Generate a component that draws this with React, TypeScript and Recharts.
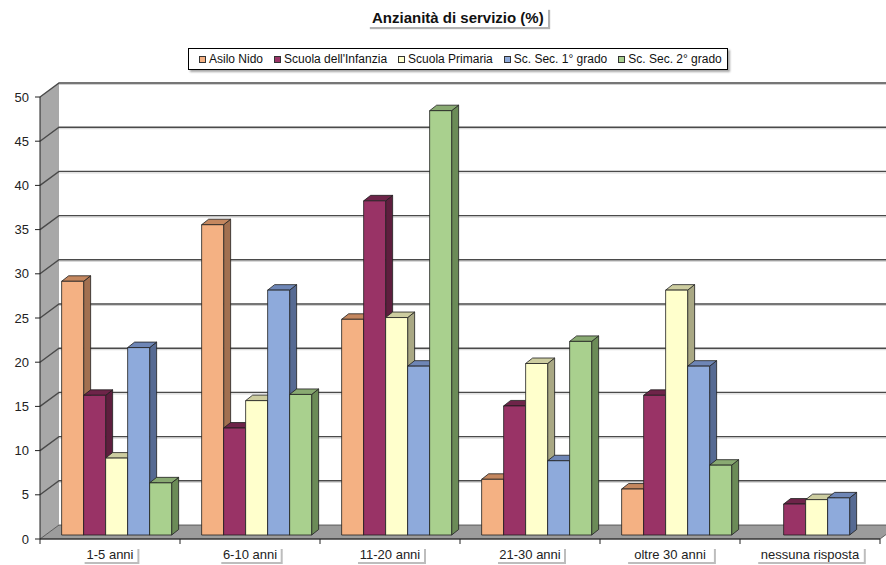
import React from 'react'
import { BarChart, Bar, XAxis, YAxis, Legend, ReferenceArea } from 'recharts'

// Categories (x axis) and the five series, values in %
const categories = ['1-5 anni', '6-10 anni', '11-20 anni', '21-30 anni', 'oltre 30 anni', 'nessuna risposta']
const asiloNido = [28.7, 35.1, 24.4, 6.3, 5.2, null]
const scuolaInfanzia = [15.8, 12.1, 37.8, 14.6, 15.8, 3.5]
const scuolaPrimaria = [8.7, 15.2, 24.6, 19.4, 27.7, 4.0]
const secPrimoGrado = [21.2, 27.7, 19.1, 8.4, 19.1, 4.2]
const secSecondoGrado = [5.9, 15.9, 48.0, 21.9, 7.9, null]
const yTicks = [0, 5, 10, 15, 20, 25, 30, 35, 40, 45, 50]

const series = [
  { key: 'asilo', name: 'Asilo Nido', values: asiloNido, front: '#F4B183', top: '#C4875F', side: '#A27050' },
  { key: 'infanzia', name: "Scuola dell'Infanzia", values: scuolaInfanzia, front: '#993366', top: '#6E2449', side: '#5E1E3E' },
  { key: 'primaria', name: 'Scuola Primaria', values: scuolaPrimaria, front: '#FFFFCC', top: '#CDCDA0', side: '#A9A884' },
  { key: 'sec1', name: 'Sc. Sec. 1° grado', values: secPrimoGrado, front: '#8EAADB', top: '#6E86B6', side: '#566A93' },
  { key: 'sec2', name: 'Sc. Sec. 2° grado', values: secSecondoGrado, front: '#A9D08E', top: '#89AA72', side: '#6B8B57' },
]

const data = categories.map((category, i) => {
  const row: Record<string, string | number | null> = { category }
  series.forEach((s) => { row[s.key] = s.values[i] })
  return row
})

// pseudo-3D geometry
const WALL_DX = 19
const WALL_DY = -14
const BAR_SHIFT_X = 5.4
const BAR_SHIFT_Y = -4
const BAR_DX = 7
const BAR_DY = -5.5

const FONT = 'Arial, "Liberation Sans", sans-serif'

function Bar3D(props: any) {
  const { x, y, width, height, fill, topColor, sideColor } = props
  if (!height || height <= 0) return null
  const fx = x + BAR_SHIFT_X
  const fy = y + BAR_SHIFT_Y
  const w = width
  const h = height
  return (
    <g stroke="#1e1e1e" strokeWidth={0.8} strokeLinejoin="round">
      <polygon
        points={`${fx + w},${fy} ${fx + w + BAR_DX},${fy + BAR_DY} ${fx + w + BAR_DX},${fy + h + BAR_DY} ${fx + w},${fy + h}`}
        fill={sideColor}
      />
      <polygon
        points={`${fx},${fy} ${fx + BAR_DX},${fy + BAR_DY} ${fx + w + BAR_DX},${fy + BAR_DY} ${fx + w},${fy}`}
        fill={topColor}
      />
      <rect x={fx} y={fy} width={w} height={h} fill={fill} />
    </g>
  )
}

// left wall, floor and back-wall gridlines
function WallShape(props: any) {
  const { x, y, width, height } = props
  const bottom = y + height
  const px = height / 50
  return (
    <g>
      <polygon
        points={`${x},${bottom} ${x},${y} ${x + WALL_DX},${y + WALL_DY} ${x + WALL_DX},${bottom + WALL_DY}`}
        fill="#a8a8a8"
      />
      <polygon
        points={`${x},${bottom} ${x + WALL_DX},${bottom + WALL_DY} ${x + width + WALL_DX},${bottom + WALL_DY} ${x + width},${bottom}`}
        fill="#9c9c9c"
        stroke="#444"
        strokeWidth={0.8}
      />
      {yTicks.filter((v) => v > 0).map((v) => {
        const yy = bottom - v * px
        return (
          <g key={v} fill="none">
            <line x1={x + WALL_DX} y1={yy + WALL_DY + 1.5} x2={x + width + WALL_DX} y2={yy + WALL_DY + 1.5} stroke="#d0d0d0" strokeWidth={1} />
            <path d={`M${x},${yy} L${x + WALL_DX},${yy + WALL_DY} L${x + width + WALL_DX},${yy + WALL_DY}`} stroke="#4a4a4a" strokeWidth={1.4} />
          </g>
        )
      })}
    </g>
  )
}

function CategoryTick(props: any) {
  const { x, y, payload } = props
  const half = payload.offset ?? 70
  const label = String(payload.value)
  const idx = categories.indexOf(label)
  const w = label.length * 6.6 + 2
  return (
    <g>
      <line x1={x - half} y1={y} x2={x - half} y2={y + 5} stroke="#222" />
      {idx === categories.length - 1 && <line x1={x + half} y1={y} x2={x + half} y2={y + 5} stroke="#222" />}
      <rect x={x - w / 2 + 2} y={y + 10} width={w} height={15} fill="#bdbdbd" />
      <rect x={x - w / 2} y={y + 8} width={w} height={15} fill="#fff" />
      <text x={x} y={y + 20} textAnchor="middle" fontSize={13} fill="#222" fontFamily={FONT}>{label}</text>
    </g>
  )
}

function LegendBox() {
  return (
    <div
      style={{
        boxSizing: 'border-box',
        width: 540,
        height: 22,
        border: '1px solid #000',
        background: '#fff',
        boxShadow: '2px 2px 2px rgba(0,0,0,0.35)',
        display: 'flex',
        alignItems: 'center',
        paddingLeft: 10,
        gap: 11,
        fontSize: 12,
        fontFamily: FONT,
        color: '#111',
        whiteSpace: 'nowrap',
      }}
    >
      {series.map((s) => (
        <span key={s.key} style={{ display: 'flex', alignItems: 'center' }}>
          <span style={{ display: 'inline-block', width: 5, height: 5, background: s.front, border: '1px solid #333', marginRight: 3 }} />
          {s.name}
        </span>
      ))}
    </div>
  )
}

export default function App() {
  return (
    <div style={{ position: 'absolute', left: 0, top: 0, width: 886, height: 565, background: '#fff', fontFamily: FONT, overflow: 'hidden' }}>
      <div
        style={{
          position: 'absolute',
          left: 368,
          top: 8,
          padding: '1px 4px',
          background: '#fff',
          boxShadow: '2px 2px 1px rgba(0,0,0,0.3)',
          fontSize: 15,
          fontWeight: 'bold',
          color: '#111',
          zIndex: 2,
        }}
      >
        Anzianità di servizio (%)
      </div>
      <BarChart
        width={886}
        height={565}
        data={data}
        margin={{ top: 97, right: 6, bottom: 0, left: 10 }}
        barCategoryGap="11.6%"
        barGap={0}
      >
        <ReferenceArea y1={0} y2={50} shape={WallShape} ifOverflow="visible" zIndex={-50} />
        <XAxis
          dataKey="category"
          height={26}
          interval={0}
          axisLine={{ stroke: '#222' }}
          tickLine={false}
          tickSize={0}
          tickMargin={0}
          tick={<CategoryTick />}
        />
        <YAxis
          width={30}
          domain={[0, 50]}
          ticks={yTicks}
          interval={0}
          axisLine={{ stroke: '#222' }}
          tickLine={{ stroke: '#222' }}
          tickSize={5}
          tickMargin={6}
          tick={{ fontSize: 13, fill: '#222' }}
        />
        <Legend
          layout="horizontal"
          verticalAlign="middle"
          align="center"
          width={540}
          height={22}
          wrapperStyle={{ top: 48, left: 188, width: 540, height: 22 }}
          content={<LegendBox />}
        />
        {series.map((s) => (
          <Bar
            key={s.key}
            dataKey={s.key}
            name={s.name}
            fill={s.front}
            isAnimationActive={false}
            shape={(p: any) => <Bar3D {...p} topColor={s.top} sideColor={s.side} />}
          />
        ))}
      </BarChart>
    </div>
  )
}
